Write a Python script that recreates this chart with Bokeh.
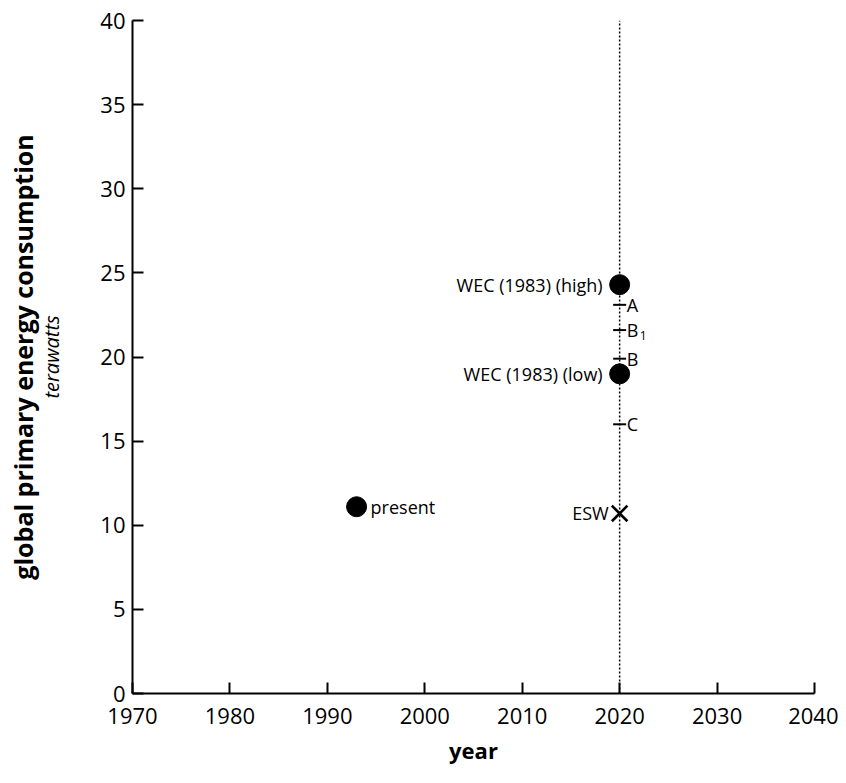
from bokeh.plotting import figure
from bokeh.models import Range1d, FixedTicker, Title, ColumnDataSource
from bokeh.core.properties import value
from bokeh.embed import file_html
from bokeh.resources import INLINE

# ---- data ----
x_ticks = [1970, 1980, 1990, 2000, 2010, 2020, 2030, 2040]
y_ticks = [0, 5, 10, 15, 20, 25, 30, 35, 40]
target_year = 2020

present_year = [1993]
present_value = [11.1]
present_label = ["present"]

wec_year = [2020, 2020]
wec_value = [24.3, 19.0]
wec_label = ["WEC (1983) (high)", "WEC (1983) (low)"]

scen_year = [2020, 2020, 2020, 2020]
scen_value = [23.1, 21.6, 19.9, 16.0]
scen_label = ["A", "B", "B", "C"]
scen_sub = ["", "1", "", ""]

esw_year = [2020]
esw_value = [10.7]
esw_label = ["ESW"]

FONT = "Open Sans"

p = figure(width=838, height=767, output_backend="svg", toolbar_location=None,
           x_range=Range1d(1970, 2040), y_range=Range1d(0, 40),
           min_border_top=20, min_border_right=24, min_border_bottom=0, min_border_left=132)
p.outline_line_color = None
p.grid.visible = False
p.background_fill_color = "white"

for ax in (p.xaxis[0], p.yaxis[0]):
    ax.axis_line_width = 2
    ax.axis_line_color = "black"
    ax.major_tick_line_width = 2
    ax.major_tick_line_color = "black"
    ax.major_tick_in = 11
    ax.major_tick_out = 0
    ax.minor_tick_line_color = None
    ax.major_label_text_font = FONT
    ax.major_label_text_font_size = "22px"
    ax.major_label_text_color = "black"

p.xaxis.ticker = FixedTicker(ticks=x_ticks)
p.yaxis.ticker = FixedTicker(ticks=y_ticks)
p.xaxis.major_label_standoff = 14
p.yaxis.major_label_standoff = 7

p.xaxis.axis_label = "year"
p.xaxis.axis_label_text_font = FONT
p.xaxis.axis_label_text_font_style = "bold"
p.xaxis.axis_label_text_font_size = "22px"
p.xaxis.axis_label_text_color = "black"
p.xaxis.axis_label_standoff = 8

p.yaxis.axis_label = "terawatts"
p.yaxis.axis_label_text_font = FONT
p.yaxis.axis_label_text_font_style = "italic"
p.yaxis.axis_label_text_font_size = "20px"
p.yaxis.axis_label_text_color = "black"
p.yaxis.axis_label_standoff = 32

t = Title(text="global primary energy consumption", align="center",
          text_font=FONT, text_font_style="bold", text_font_size="25px",
          text_color="black", standoff=-8)
p.add_layout(t, "left")

# vertical dotted line at target year
p.segment(x0=[target_year], y0=[0], x1=[target_year], y1=[40],
          line_color="black", line_width=1.5, line_dash="2 2")

# scenario ticks
scen_src = ColumnDataSource(dict(x=scen_year, y=scen_value, lab=scen_label, sub=scen_sub))
p.scatter("x", "y", source=scen_src, marker="dash", size=13, line_width=2,
          line_color="black")
p.text("x", "y", text="lab", source=scen_src, x_offset=7, text_align="left",
       text_baseline="middle", text_font=value(FONT), text_font_size="18px",
       text_color="black")
p.text("x", "y", text="sub", source=scen_src, x_offset=20, y_offset=5,
       text_align="left", text_baseline="middle", text_font=value(FONT),
       text_font_size="12px", text_color="black")

# WEC points
wec_src = ColumnDataSource(dict(x=wec_year, y=wec_value, lab=wec_label))
p.scatter("x", "y", source=wec_src, marker="circle", size=20, fill_color="black",
          line_color="black")
p.text("x", "y", text="lab", source=wec_src, x_offset=-17, text_align="right",
       text_baseline="middle", text_font=value(FONT), text_font_size="18px",
       text_color="black")

# present
pr_src = ColumnDataSource(dict(x=present_year, y=present_value, lab=present_label))
p.scatter("x", "y", source=pr_src, marker="circle", size=20, fill_color="black",
          line_color="black")
p.text("x", "y", text="lab", source=pr_src, x_offset=14, text_align="left",
       text_baseline="middle", text_font=value(FONT), text_font_size="18px",
       text_color="black")

# ESW
esw_src = ColumnDataSource(dict(x=esw_year, y=esw_value, lab=esw_label))
p.scatter("x", "y", source=esw_src, marker="x", size=22, line_width=2.6,
          line_color="black")
p.text("x", "y", text="lab", source=esw_src, x_offset=-11, text_align="right",
       text_baseline="middle", text_font=value(FONT), text_font_size="18px",
       text_color="black")

open("out.html", "w").write(file_html(p, INLINE))
